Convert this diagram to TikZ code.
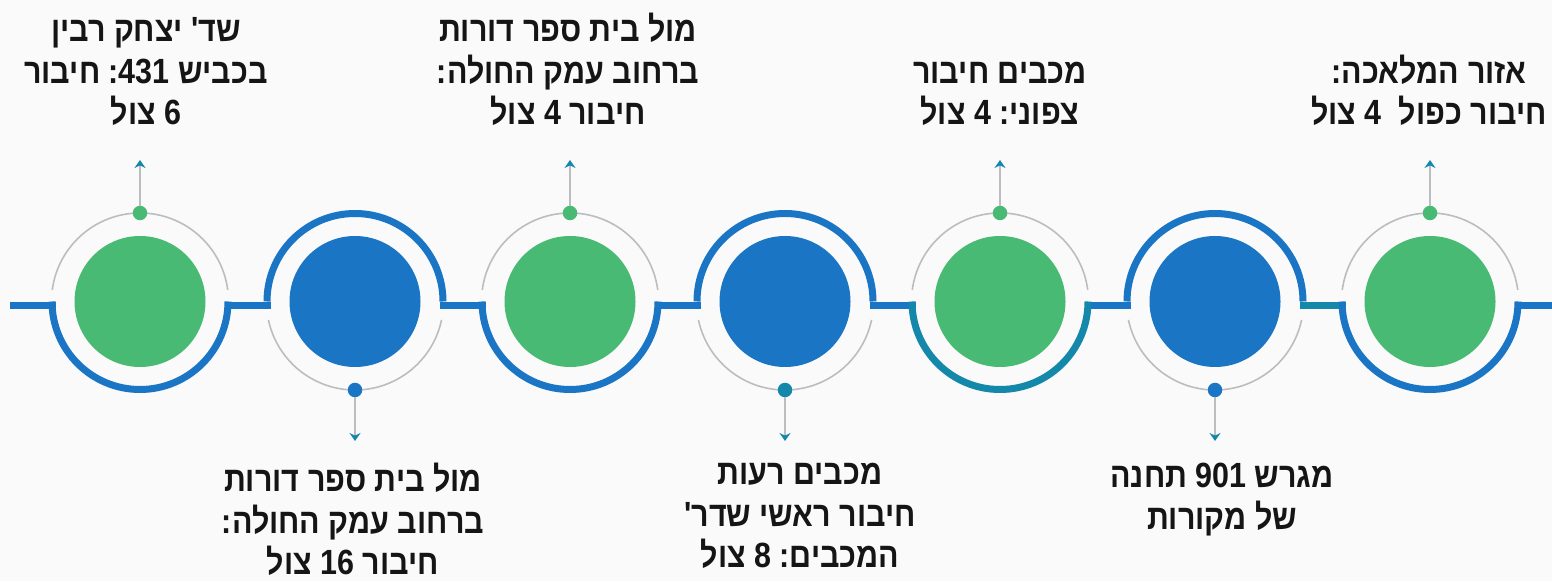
\documentclass[tikz,border=0pt]{standalone}
\usepackage{fontspec}
\usepackage{tikz}
\usetikzlibrary{arrows.meta}
\TeXXeTstate=1
\frenchspacing
\newfontfamily\hebfont[Script=Hebrew,Ligatures=TeXOff,FakeStretch=0.87]{Liberation Sans}
\definecolor{mblue}{HTML}{1A75C4}
\definecolor{mgreen}{HTML}{48BA73}
\definecolor{mteal}{HTML}{1488AB}
\definecolor{mgray}{HTML}{BBBDC0}
\definecolor{mback}{HTML}{FAFAFA}
\definecolor{mtext}{HTML}{151515}
\newcommand{\rl}[1]{\beginR #1\endR}
\newcommand{\num}[1]{\beginL #1\endL{}}
\tikzset{
  disc/.style={circle,minimum size=131pt,inner sep=0pt},
  dot/.style={circle,minimum size=14.5pt,inner sep=0pt},
  ring/.style={line width=7pt},
  thin ring/.style={draw=mgray,line width=1.6pt},
  rail/.style={line width=7pt,draw=mblue},
  pointer/.style={draw=mgray,line width=2pt,-{Stealth[length=8pt,width=11pt,color=mteal]}},
  lbl/.style={align=center,inner sep=0pt,text=mtext,font=\hebfont\bfseries\fontsize{35}{41.5}\selectfont}
}

\begin{document}
\begin{tikzpicture}[x=1pt,y=1pt]
    \useasboundingbox (0,0) rectangle (1552,581);
    \fill [mback](0,0) rectangle (1552,581);
    % rail segments
    \draw [rail](10,275.5)--(55.5,275.5);
    \draw [rail](224.5,275.5)--(270.5,275.5);
    \draw [rail](439.5,275.5)--(485.5,275.5);
    \draw [rail](654.5,275.5)--(700.5,275.5);
    \draw [rail](869.5,275.5)--(915.5,275.5);
    \draw [rail](1084.5,275.5)--(1130.5,275.5);
    \draw [rail,draw=mteal](1299.5,275.5)--(1345.5,275.5);
    \draw [rail](1514.5,275.5)--(1552,275.5);
    % stations
    \node [disc,fill=mgreen] (c1) at (140,279.5) {};
    \node [disc,fill=mblue] (c2) at (355,279.5) {};
    \node [disc,fill=mgreen] (c3) at (570,279.5) {};
    \node [disc,fill=mblue] (c4) at (785,279.5) {};
    \node [disc,fill=mgreen] (c5) at (1000,279.5) {};
    \node [disc,fill=mblue] (c6) at (1215,279.5) {};
    \node [disc,fill=mgreen] (c7) at (1430,279.5) {};
    % thick arcs
    \draw [ring,draw=mblue](c1.center) ++(180:88) arc [start angle=180,end angle=360,radius=88];
    \draw [ring,draw=mblue](c2.center) ++(180:88) arc [start angle=180,end angle=0,radius=88];
    \draw [ring,draw=mblue](c3.center) ++(180:88) arc [start angle=180,end angle=360,radius=88];
    \draw [ring,draw=mblue](c4.center) ++(180:88) arc [start angle=180,end angle=0,radius=88];
    \draw [ring,draw=mteal](c5.center) ++(180:88) arc [start angle=180,end angle=360,radius=88];
    \draw [ring,draw=mblue](c6.center) ++(180:88) arc [start angle=180,end angle=0,radius=88];
    \draw [ring,draw=mblue](c7.center) ++(180:88) arc [start angle=180,end angle=360,radius=88];
    % thin arcs
    \draw [thin ring](c1.center) ++(7.5:88.5) arc [start angle=7.5,end angle=172.5,radius=88.5];
    \draw [thin ring](c2.center) ++(192:88.5) arc [start angle=192,end angle=348,radius=88.5];
    \draw [thin ring](c3.center) ++(7.5:88.5) arc [start angle=7.5,end angle=172.5,radius=88.5];
    \draw [thin ring](c4.center) ++(192:88.5) arc [start angle=192,end angle=348,radius=88.5];
    \draw [thin ring](c5.center) ++(7.5:88.5) arc [start angle=7.5,end angle=172.5,radius=88.5];
    \draw [thin ring](c6.center) ++(192:88.5) arc [start angle=192,end angle=348,radius=88.5];
    \draw [thin ring](c7.center) ++(7.5:88.5) arc [start angle=7.5,end angle=172.5,radius=88.5];
    % dots and pointers
    \node [dot,fill=mgreen] (d1) at (140,368) {};
    \node [dot,fill=mblue] (d2) at (355,191) {};
    \node [dot,fill=mgreen] (d3) at (570,368) {};
    \node [dot,fill=mteal] (d4) at (785,191) {};
    \node [dot,fill=mgreen] (d5) at (1000,368) {};
    \node [dot,fill=mblue] (d6) at (1215,191) {};
    \node [dot,fill=mgreen] (d7) at (1430,368) {};
    \coordinate (p1) at (140,421);
    \coordinate (p2) at (355,140);
    \coordinate (p3) at (570,421);
    \coordinate (p4) at (785,140);
    \coordinate (p5) at (1000,421);
    \coordinate (p6) at (1215,140);
    \coordinate (p7) at (1430,421);
    \draw [pointer](d1)--(p1);
    \draw [pointer](d2)--(p2);
    \draw [pointer](d3)--(p3);
    \draw [pointer](d4)--(p4);
    \draw [pointer](d5)--(p5);
    \draw [pointer](d6)--(p6);
    \draw [pointer](d7)--(p7);
    % labels
    \node [lbl,anchor=south] (t1) at (146,455) {\rl{שד' יצחק רבין}\\\rl{בכביש \num{431}: חיבור}\\\rl{\num{6} צול}};
    \node [lbl,anchor=north] (t2) at (353,118) {\rl{מול בית ספר דורות}\\\rl{ברחוב עמק החולה:}\\\rl{חיבור \num{16} צול}};
    \node [lbl,anchor=south] (t3) at (568,455) {\rl{מול בית ספר דורות}\\\rl{ברחוב עמק החולה:}\\\rl{חיבור \num{4} צול}};
    \node [lbl,anchor=north] (t4) at (800,118) {\rl{מכבים רעות}\\\rl{חיבור ראשי שדר'}\\\rl{המכבים: \num{8} צול}};
    \node [lbl,anchor=south] (t5) at (1000,455) {\rl{מכבים חיבור}\\\rl{צפוני: \num{4} צול}};
    \node [lbl,anchor=north] (t6) at (1222,118) {\rl{מגרש \num{901} תחנה}\\\rl{של מקורות}};
    \node [lbl,anchor=south] (t7) at (1429,455) {\rl{אזור המלאכה:}\\\rl{חיבור כפול \ \num{4} צול}};
\end{tikzpicture}
\end{document}
